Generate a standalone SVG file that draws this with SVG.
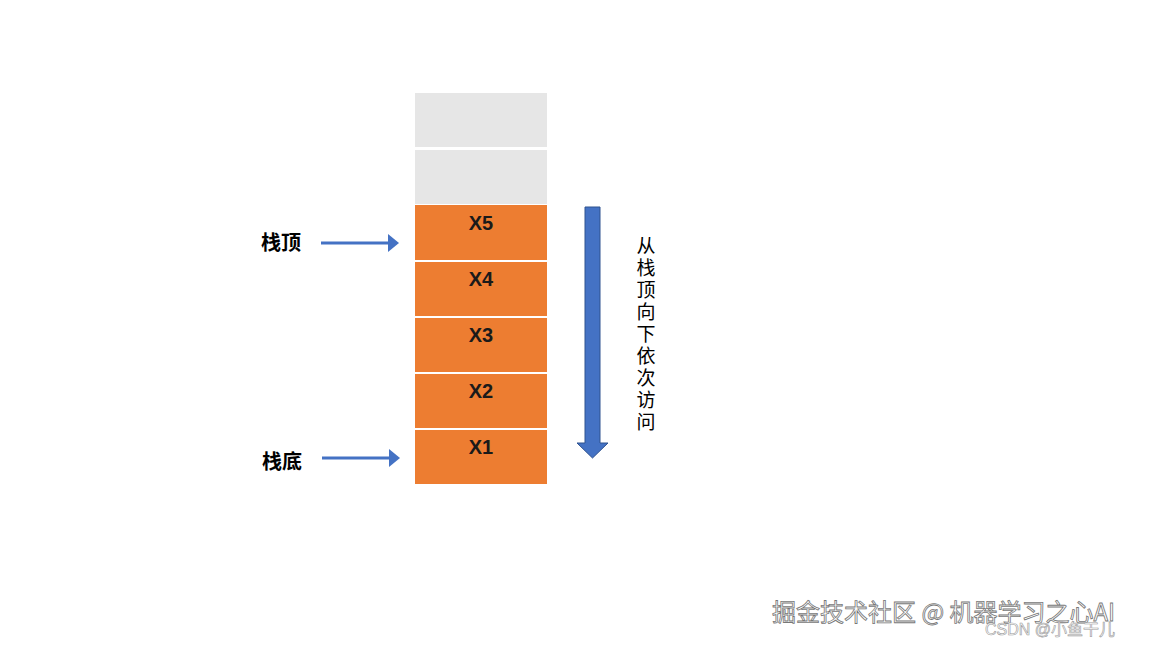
<svg xmlns="http://www.w3.org/2000/svg" width="1152" height="646" viewBox="0 0 1152 646">
<style>
.g{fill:#e6e6e6}.o{fill:#ed7d31}
.t{font-family:"Liberation Sans",Arial,sans-serif;font-size:20px;font-weight:bold;fill:#1a1a1a;text-anchor:middle}
.c{font-family:"Noto Sans CJK SC",sans-serif;font-size:20px;font-weight:bold;fill:#000}
.v{font-family:"Noto Sans CJK SC",sans-serif;font-size:19px;fill:#000;text-anchor:middle}
.a{stroke:#4472c4;stroke-width:3;fill:none}
.w{font-family:"Noto Sans CJK SC",sans-serif;font-size:24px;fill:#fff;stroke:#777;stroke-width:0.8}
</style>
<rect width="1152" height="646" fill="#fff"/>
<g id="cell-empty1"><rect class="g" x="415" y="93" width="132" height="54"/></g>
<g id="cell-empty2"><rect class="g" x="415" y="150" width="132" height="54"/></g>
<g id="cell-x5"><rect class="o" x="415" y="205" width="132" height="55"/><text class="t" x="481" y="230">X5</text></g>
<g id="cell-x4"><rect class="o" x="415" y="262" width="132" height="54"/><text class="t" x="481" y="286">X4</text></g>
<g id="cell-x3"><rect class="o" x="415" y="318" width="132" height="54"/><text class="t" x="481" y="342">X3</text></g>
<g id="cell-x2"><rect class="o" x="415" y="374" width="132" height="54"/><text class="t" x="481" y="398">X2</text></g>
<g id="cell-x1"><rect class="o" x="415" y="430" width="132" height="54"/><text class="t" x="481" y="454">X1</text></g>
<g id="label-top"><text class="c" x="261" y="250">栈顶</text></g>
<g id="label-bottom"><text class="c" x="262" y="469">栈底</text></g>
<g id="connectors">
<line class="a" x1="321" y1="243" x2="389" y2="243"/><polygon points="388,234 399,243 388,252" fill="#4472c4"/>
<line class="a" x1="322" y1="458" x2="390" y2="458"/><polygon points="389,449 400,458 389,467" fill="#4472c4"/>
<polygon points="585,207 600,207 600,443 608,443 592.5,458 577,443 585,443" fill="#4472c4" stroke="#2f528f" stroke-width="1"/>
</g>
<g id="label-vertical">
<text class="v" x="646" y="253">从</text><text class="v" x="646" y="275">栈</text><text class="v" x="646" y="297">顶</text><text class="v" x="646" y="319">向</text><text class="v" x="646" y="341">下</text><text class="v" x="646" y="363">依</text><text class="v" x="646" y="385">次</text><text class="v" x="646" y="407">访</text><text class="v" x="646" y="429">问</text>
</g>
<text class="w" x="772" y="621">掘金技术社区 @ 机器学习之心AI</text>
<text x="985" y="635" font-family="'Liberation Sans','Noto Sans CJK SC',sans-serif" font-size="16" fill="#fff" stroke="#999" stroke-width="0.6">CSDN @小鱼干儿</text>
</svg>
